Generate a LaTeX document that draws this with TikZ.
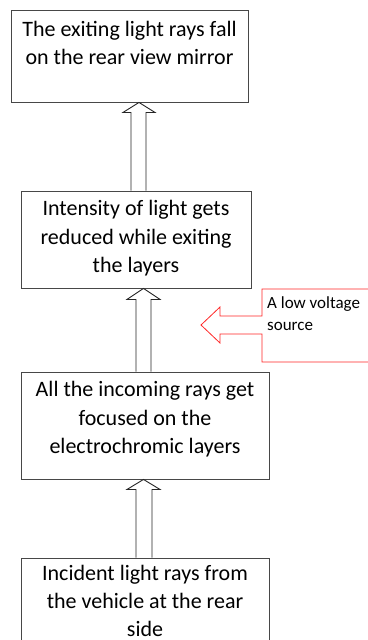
\documentclass[tikz,border=0pt]{standalone}
\usepackage{fontspec}
\setmainfont{Carlito}
\usetikzlibrary{calc}
\begin{document}
\begin{tikzpicture}[x=1pt,y=-1pt,
  box/.style={draw=black!72,line width=0.9pt,rectangle,inner sep=0pt},
  boxtext/.style={anchor=north,inner sep=0pt,align=center,font=\fontsize{22}{28.5}\selectfont},
  blk/.style={draw=black!85,line width=0.9pt,fill=white,line join=miter},
  callout/.style={draw=red!85!white,line width=0.8pt,line join=miter},
  smalltext/.style={anchor=north west,inner sep=0pt,align=left,font=\fontsize{17}{22}\selectfont}]
\useasboundingbox (0,0) rectangle (367,640);
% boxes
\node[box,minimum width=237pt,minimum height=92pt] (b1) at (129.5,56) {};
\node[box,minimum width=230pt,minimum height=97pt] (b2) at (136,239.5) {};
\node[box,minimum width=248pt,minimum height=107pt] (b3) at (145,425.5) {};
\node[box,minimum width=248pt,minimum height=90pt] (b4) at (145,603) {};
% texts
\node[boxtext] (t1) at ($(b1.north)+(0,11)$) {The exiting light rays fall\\on the rear view mirror};
\node[boxtext] (t2) at ($(b2.north)+(0,9.5)$) {Intensity of light gets\\reduced while exiting\\the layers};
\node[boxtext] (t3) at ($(b3.north)+(0,9.5)$) {All the incoming rays get\\focused on the\\electrochromic layers};
\node[boxtext,font=\fontsize{22}{28}\selectfont] (t4) at ($(b4.north)+(0,7)$) {Incident light rays from\\the vehicle at the rear\\side};
% block arrows (from lower box to upper box)
\draw[blk] let \p1=(b2.north), \p2=(b1.south) in
  (131,\y1) -- (131,\y2-10) -- (123,\y2-10) -- (139,\y2) -- (155,\y2-10) -- (146,\y2-10) -- (146,\y1);
\draw[blk] let \p1=(b3.north), \p2=(b2.south) in
  (136,\y1) -- (136,\y2-11) -- (127,\y2-11) -- (143.5,\y2) -- (160,\y2-11) -- (151,\y2-11) -- (151,\y1);
\draw[blk] let \p1=(b4.north), \p2=(b3.south) in
  (136,\y1) -- (136,\y2-10) -- (127,\y2-10) -- (143.5,\y2) -- (160,\y2-10) -- (152,\y2-10) -- (152,\y1);
% callout
\draw[callout] (370,289) -- (262,289) -- (262,316) -- (220,316) -- (220,307) -- (201,325)
  -- (220,343) -- (220,334) -- (262,334) -- (262,362) -- (370,362);
\node[smalltext] (src) at (267,296) {A low voltage\\source};
\end{tikzpicture}
\end{document}
